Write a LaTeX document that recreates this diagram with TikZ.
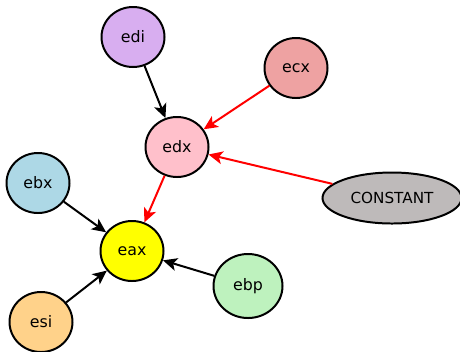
\documentclass[tikz,border=0pt]{standalone}
\usepackage{fontspec}
\setmainfont{DejaVu Sans}
\usetikzlibrary{arrows.meta,shapes.geometric}

\definecolor{ediC}{RGB}{216,174,240}
\definecolor{ecxC}{RGB}{238,162,162}
\definecolor{edxC}{RGB}{255,192,203}
\definecolor{ebxC}{RGB}{173,216,230}
\definecolor{eaxC}{RGB}{255,255,0}
\definecolor{ebpC}{RGB}{190,242,190}
\definecolor{esiC}{RGB}{255,210,138}
\definecolor{constC}{RGB}{190,186,186}

\begin{document}
\begin{tikzpicture}[x=0.03cm, y=-0.03cm]

%-------------------------------------------------
% Styles
%-------------------------------------------------
\tikzset{
  reg/.style={ellipse, draw=black, line width=1.7pt, minimum width=1.89cm, minimum height=1.80cm, inner sep=0pt, font=\fontsize{13.5}{15}\selectfont},
  constnode/.style={ellipse, draw=black, line width=1.7pt, fill=constC, minimum width=4.17cm, minimum height=1.53cm, inner sep=0pt, font=\fontsize{13}{15}\selectfont},
  dep/.style={draw=black, line width=1.7pt, -{Stealth[length=12pt, width=11pt, inset=3pt]}},
  flow/.style={draw=red, line width=1.7pt, -{Stealth[length=12pt, width=11pt, inset=3pt]}, color=red}
}

\useasboundingbox (0,0) rectangle (460,351);

%-------------------------------------------------
% Register nodes
%-------------------------------------------------
\node[reg, fill=ediC] (edi) at (133,37) {edi};
\node[reg, fill=ecxC] (ecx) at (296,68) {ecx};
\node[reg, fill=edxC] (edx) at (177,147) {edx};
\node[reg, fill=ebxC] (ebx) at (38,183) {ebx};
\node[reg, fill=eaxC] (eax) at (132,251) {eax};
\node[reg, fill=ebpC, minimum width=2.07cm, minimum height=1.92cm] (ebp) at (248,286) {ebp};
\node[reg, fill=esiC] (esi) at (41,322) {esi};

% Constant source
\node[constnode] (const) at (392,198) {CONSTANT};

%-------------------------------------------------
% Edges
%-------------------------------------------------
\draw[dep] (edi) -- (edx);
\draw[flow] (ecx) -- (edx);
\draw[flow] (const) -- (edx);
\draw[flow] (edx) -- (eax);
\draw[dep] (ebx) -- (eax);
\draw[dep] (esi) -- (eax);
\draw[dep] (ebp) -- (eax);

\end{tikzpicture}
\end{document}
